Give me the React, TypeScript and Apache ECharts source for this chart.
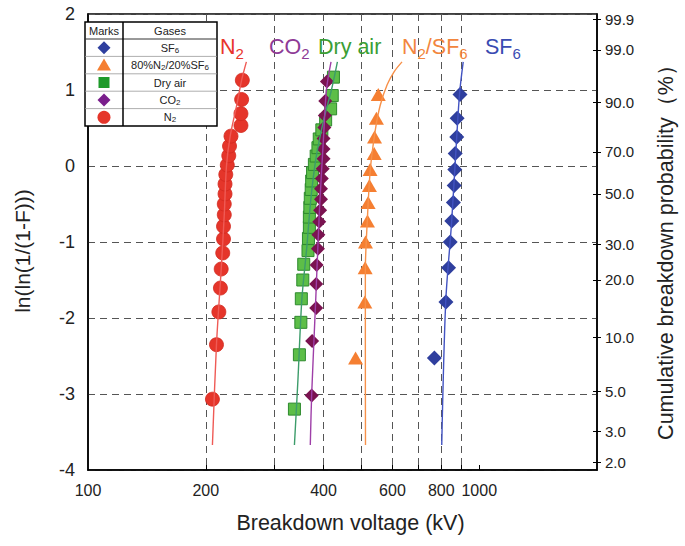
import React, { useEffect, useRef } from "react";
import * as echarts from "echarts";

const FONT = "Arial, 'Liberation Sans', Helvetica, sans-serif";

// Breakdown voltages (kV) in rank order, with their Weibull plotting positions ln(ln(1/(1-F)))
const sf6Kv = [768, 822, 835, 843, 851, 859, 863, 866, 868, 876, 878, 893];
const sf6Y = [-2.525, -1.79, -1.338, -1.0, -0.723, -0.48, -0.257, -0.046, 0.164, 0.383, 0.627, 0.942];

const n2Sf6Kv = [483, 510, 511, 512, 518, 520, 524, 526, 539, 540, 546, 552];
const n2Sf6Y = [-2.525, -1.79, -1.338, -1.0, -0.723, -0.48, -0.257, -0.046, 0.164, 0.383, 0.627, 0.942];

const dryAirKv = [337, 347, 350, 351, 354, 356, 365, 366, 368, 368, 369, 370, 372, 373, 375, 379, 383, 387, 390, 396, 405, 417, 421, 424];
const dryAirY = [-3.199, -2.484, -2.057, -1.747, -1.5, -1.293, -1.113, -0.953, -0.807, -0.672, -0.545, -0.425, -0.309, -0.197, -0.087, 0.021, 0.131, 0.241, 0.356, 0.476, 0.606, 0.752, 0.927, 1.169];

const co2Kv = [373, 374, 383, 383, 384, 387, 388, 390, 392, 394, 394, 396, 398, 400, 400, 400, 402, 403, 404, 408];
const co2Y = [-3.02, -2.302, -1.87, -1.554, -1.302, -1.089, -0.903, -0.735, -0.581, -0.436, -0.298, -0.166, -0.036, 0.094, 0.225, 0.361, 0.506, 0.666, 0.855, 1.113];

const n2Kv = [208, 213, 216, 218, 219, 221, 222, 222, 223, 223, 224, 224, 225, 227, 229, 230, 232, 246, 246, 247, 248];
const n2Y = [-3.068, -2.351, -1.92, -1.606, -1.356, -1.144, -0.96, -0.794, -0.642, -0.501, -0.367, -0.238, -0.112, 0.012, 0.136, 0.262, 0.393, 0.533, 0.689, 0.875, 1.129];

// Fitted distribution curves, [kV, ln(ln(1/(1-F)))]
const n2Fit = [[208, -3.67], [213, -2.35], [219, -1.36], [223, -0.64], [226, 0.01], [231, 0.4], [240, 0.8], [247, 1.13], [254, 1.37]];
const co2Fit = [[370, -3.67], [373, -3.01], [382, -1.76], [390.5, -0.58], [399.6, 0.34], [406.8, 1.0], [418, 1.37]];
const dryAirFit = [[337, -3.67], [344, -2.82], [352, -1.76], [362, -1.1], [371, -0.45], [382, 0.08], [400, 0.6], [419, 1.0], [434, 1.37]];
const n2Sf6Fit = [[512, -3.67], [511.6, -2.42], [511.6, -1.37], [517.6, -0.71], [526.7, -0.05], [542.3, 0.47], [558.4, 0.8], [581.6, 1.07], [605.8, 1.24], [634.8, 1.37]];
const sf6Fit = [[802, -3.67], [821, -1.79], [850, -0.74], [875, 0.34], [891, 0.96], [910, 1.37]];

// Axis ticks
const xLabelKv = [100, 200, 400, 600, 800, 1000];
const xTickKv = [200, 300, 400, 500, 600, 700, 800, 900, 1000];
const xGridKv = [200, 300, 400, 500, 600, 700, 800, 900];
const probTicks = [2, 3, 5, 10, 20, 30, 50, 70, 90, 99, 99.9];

const lg = (v: number) => Math.log10(v);
const probToY = (p: number) => Math.log(-Math.log(1 - p / 100));
const yToProb = (y: number) => 100 * (1 - Math.exp(-Math.exp(y)));

const COLORS = {
  sf6: "#2F3F9E",
  sf6Line: "#4253C2",
  sf6Text: "#3A4BB2",
  mix: "#F57F32",
  mixLine: "#F7914A",
  mixText: "#F2863E",
  dry: "#5DBE48",
  dryBorder: "#2E8A2E",
  dryLine: "#3C9C6A",
  dryText: "#3A9E35",
  co2: "#7A1350",
  co2Line: "#9E3FA8",
  co2Text: "#8E3A96",
  n2: "#E5352A",
  n2Line: "#EF5A55",
  n2Text: "#E8352B",
};

const pts = (kv: number[], y: number[]) => kv.map((v, i) => [lg(v), y[i]]);
const fitPts = (f: number[][]) => f.map(([v, y]) => [lg(v), y]);

function fitSeries(name: string, data: number[][], color: string) {
  return {
    name,
    type: "line",
    data: fitPts(data),
    symbol: "none",
    smooth: 0.3,
    lineStyle: { color, width: 1.4 },
    z: 5,
    silent: true,
  };
}

function topLabel(x: number, text: string, color: string) {
  return {
    type: "text",
    x,
    y: 47,
    z: 20,
    style: {
      text,
      fill: color,
      verticalAlign: "middle",
      align: "left",
      fontFamily: FONT,
      fontSize: 21.5,
      rich: {
        m: { fontSize: 21.5, fill: color, fontFamily: FONT },
        s: { fontSize: 15, fill: color, fontFamily: FONT, padding: [12, 0, 0, 0] },
      },
    },
  };
}

function legendText(x: number, y: number, text: string) {
  return {
    type: "text",
    x,
    y,
    z: 21,
    style: {
      text,
      fill: "#222",
      align: "center",
      verticalAlign: "middle",
      fontFamily: FONT,
      fontSize: 11,
      rich: {
        a: { fontSize: 11, fill: "#222", fontFamily: FONT },
        s: { fontSize: 8, fill: "#222", fontFamily: FONT, padding: [5, 0, 0, 0] },
      },
    },
  };
}

function buildLegend() {
  const L = 85, R = 217, T = 22, B = 126, D = 123, H = 39;
  const rowH = (B - H) / 5;
  const els: any[] = [
    { type: "rect", z: 19, shape: { x: L, y: T, width: R - L, height: B - T }, style: { fill: "#fff", stroke: "#000", lineWidth: 1.5 } },
    { type: "line", z: 20, shape: { x1: L, y1: H, x2: R, y2: H }, style: { stroke: "#333", lineWidth: 1 } },
  ];
  for (let i = 1; i < 5; i++) {
    const y = H + rowH * i;
    els.push({ type: "line", z: 20, shape: { x1: L, y1: y, x2: R, y2: y }, style: { stroke: "#999", lineWidth: 0.8 } });
  }
  els.push({ type: "line", z: 20, shape: { x1: D, y1: T, x2: D, y2: B }, style: { stroke: "#000", lineWidth: 1.5 } });
  els.push(legendText((L + D) / 2, (T + H) / 2, "Marks"));
  els.push(legendText((D + R) / 2, (T + H) / 2, "Gases"));
  const cx = (L + D) / 2;
  const cy = (i: number) => H + rowH * (i + 0.5);
  const gx = (D + R) / 2;
  // SF6
  els.push({ type: "polygon", z: 21, shape: { points: [[cx, cy(0) - 6.5], [cx + 6.5, cy(0)], [cx, cy(0) + 6.5], [cx - 6.5, cy(0)]] }, style: { fill: COLORS.sf6 } });
  els.push(legendText(gx, cy(0), "{a|SF}{s|6}"));
  // 80%N2/20%SF6
  els.push({ type: "polygon", z: 21, shape: { points: [[cx, cy(1) - 6.5], [cx + 7, cy(1) + 5.5], [cx - 7, cy(1) + 5.5]] }, style: { fill: COLORS.mix } });
  els.push(legendText(gx, cy(1), "{a|80%N}{s|2}{a|/20%SF}{s|6}"));
  // Dry air
  els.push({ type: "rect", z: 21, shape: { x: cx - 5.5, y: cy(2) - 5.5, width: 11, height: 11 }, style: { fill: "#1E9A2A" } });
  els.push(legendText(gx, cy(2), "Dry air"));
  // CO2
  els.push({ type: "polygon", z: 21, shape: { points: [[cx, cy(3) - 6.5], [cx + 6.5, cy(3)], [cx, cy(3) + 6.5], [cx - 6.5, cy(3)]] }, style: { fill: "#7A1E8C" } });
  els.push(legendText(gx, cy(3), "{a|CO}{s|2}"));
  // N2
  els.push({ type: "circle", z: 21, shape: { cx, cy: cy(4), r: 6.5 }, style: { fill: COLORS.n2 } });
  els.push(legendText(gx, cy(4), "{a|N}{s|2}"));
  return els;
}

const dashed = { type: [7, 5], color: "#555", width: 1 };

const option: any = {
  animation: false,
  textStyle: { fontFamily: FONT },
  grid: { left: 88, right: 84, top: 14, bottom: 76, show: true, borderColor: "#000", borderWidth: 1.5, backgroundColor: "transparent" },
  xAxis: [
    {
      type: "value",
      min: lg(100),
      max: lg(2000),
      position: "bottom",
      axisLine: { show: true, onZero: false, lineStyle: { color: "#000", width: 1.5 } },
      axisTick: { show: true, inside: true, length: 5, customValues: xTickKv.map(lg), lineStyle: { color: "#000" } },
      axisLabel: {
        customValues: xLabelKv.map(lg),
        formatter: (v: number) => String(Math.round(Math.pow(10, v))),
        fontSize: 16,
        color: "#222",
        margin: 12,
        fontFamily: FONT,
      },
      splitLine: { show: false },
      name: "Breakdown voltage (kV)",
      nameLocation: "middle",
      nameGap: 42,
      nameTextStyle: { fontSize: 21.5, color: "#222", fontFamily: FONT, padding: [0, 0, 0, 16] },
    },
    {
      type: "value",
      min: lg(100),
      max: lg(2000),
      position: "bottom",
      axisLine: { show: false, onZero: false },
      axisTick: { show: false, customValues: xGridKv.map(lg) },
      axisLabel: { show: false },
      splitLine: { show: true, lineStyle: dashed },
    },
  ],
  yAxis: [
    {
      type: "value",
      min: -4,
      max: 2,
      interval: 1,
      position: "left",
      axisLine: { show: true, onZero: false, lineStyle: { color: "#000", width: 1.5 } },
      axisTick: { show: false },
      axisLabel: { fontSize: 18, color: "#222", margin: 13, fontFamily: FONT },
      splitLine: { show: true, lineStyle: dashed },
      name: "ln(ln(1/(1-F)))",
      nameLocation: "middle",
      nameGap: 55,
      nameTextStyle: { fontSize: 21, color: "#222", fontFamily: FONT, padding: [0, 18, 0, 0] },
    },
    {
      type: "value",
      min: -4,
      max: 2,
      position: "right",
      axisLine: { show: true, onZero: false, lineStyle: { color: "#000", width: 1.5 } },
      axisTick: { show: true, length: 4, customValues: probTicks.map(probToY), lineStyle: { color: "#000" } },
      axisLabel: {
        customValues: probTicks.map(probToY),
        formatter: (v: number) => yToProb(v).toFixed(1),
        fontSize: 15,
        color: "#222",
        margin: 8,
        fontFamily: FONT,
      },
      splitLine: { show: false },
      name: "Cumulative breakdown probability（%）",
      nameLocation: "middle",
      nameGap: 58,
      nameTextStyle: { fontSize: 21.5, color: "#222", fontFamily: FONT, padding: [0, 10, 0, 0] },
    },
    {
      type: "value",
      min: -4,
      max: 2,
      position: "right",
      axisLine: { show: false, onZero: false },
      axisTick: { show: true, inside: true, length: 4, customValues: probTicks.map(probToY), lineStyle: { color: "#000" } },
      axisLabel: { show: false },
      splitLine: { show: false },
    },
  ],
  series: [
    {
      name: "Dry air",
      type: "scatter",
      data: pts(dryAirKv, dryAirY),
      symbol: "rect",
      symbolSize: 12,
      itemStyle: { color: COLORS.dry, borderColor: COLORS.dryBorder, borderWidth: 1, opacity: 1 },
      z: 2,
    },
    {
      name: "CO2",
      type: "scatter",
      data: pts(co2Kv, co2Y),
      symbol: "diamond",
      symbolSize: 14,
      itemStyle: { color: COLORS.co2, opacity: 1 },
      z: 3,
    },
    {
      name: "N2",
      type: "scatter",
      data: pts(n2Kv, n2Y),
      symbol: "circle",
      symbolSize: 14,
      itemStyle: { color: COLORS.n2, borderColor: "#D22A20", borderWidth: 0.8, opacity: 1 },
      z: 3,
    },
    {
      name: "80%N2/20%SF6",
      type: "scatter",
      data: pts(n2Sf6Kv, n2Sf6Y),
      symbol: "triangle",
      symbolSize: [15, 13],
      itemStyle: { color: COLORS.mix, opacity: 1 },
      z: 3,
    },
    {
      name: "SF6",
      type: "scatter",
      data: pts(sf6Kv, sf6Y),
      symbol: "diamond",
      symbolSize: 15,
      itemStyle: { color: COLORS.sf6, opacity: 1 },
      z: 3,
    },
    fitSeries("N2 fit", n2Fit, COLORS.n2Line),
    fitSeries("Dry air fit", dryAirFit, COLORS.dryLine),
    fitSeries("CO2 fit", co2Fit, COLORS.co2Line),
    fitSeries("80%N2/20%SF6 fit", n2Sf6Fit, COLORS.mixLine),
    fitSeries("SF6 fit", sf6Fit, COLORS.sf6Line),
  ],
  graphic: [
    ...buildLegend(),
    topLabel(220, "{m|N}{s|2}", COLORS.n2Text),
    topLabel(269, "{m|CO}{s|2}", COLORS.co2Text),
    topLabel(318, "{m|Dry air}", COLORS.dryText),
    topLabel(402, "{m|N}{s|2}{m|/SF}{s|6}", COLORS.mixText),
    topLabel(485, "{m|SF}{s|6}", COLORS.sf6Text),
  ],
};

export default function App() {
  const ref = useRef<HTMLDivElement>(null);
  useEffect(() => {
    if (!ref.current) return;
    const chart = echarts.init(ref.current, null, { renderer: "svg" });
    chart.setOption(option);
    return () => chart.dispose();
  }, []);
  return <div ref={ref} style={{ position: "absolute", left: 0, top: 0, width: 685, height: 546, background: "#fff" }} />;
}
